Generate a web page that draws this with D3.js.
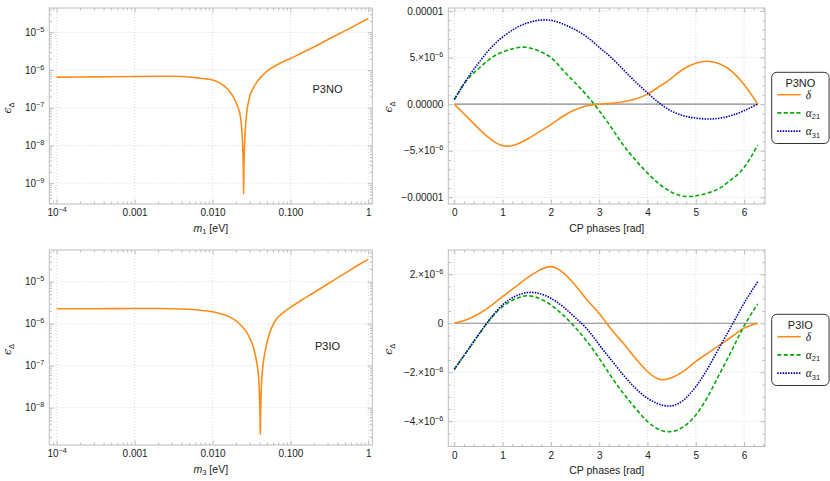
<!DOCTYPE html>
<html>
<head>
<meta charset="utf-8">
<script src="https://cdn.jsdelivr.net/npm/d3@7"></script>
<style>
  body { margin: 0; background: #fff; }
  svg text { font-family: "Liberation Sans", Arial, sans-serif; fill: #222; }
</style>
</head>
<body>
<div id="chart"></div>
<script>
// P3NO: epsilon vs lightest mass m1
const massNO = [1e-4, 3e-4, 1e-3, 2e-3, 3e-3, 4e-3, 5e-3, 6e-3, 7e-3, 8.5e-3, 0.01, 0.012, 0.0138, 0.0155,
  0.017, 0.0185, 0.02, 0.0214, 0.0225, 0.0235, 0.0243, 0.0248, 0.0251, 0.0254, 0.0259, 0.0268, 0.028,
  0.029, 0.0303, 0.033, 0.0369, 0.042, 0.0478, 0.0531, 0.065, 0.08, 0.1, 0.133, 0.18, 0.25, 0.35, 0.5, 0.7, 1];
const epsNO = [6.5e-7, 6.6e-7, 6.75e-7, 6.85e-7, 6.85e-7, 6.75e-7, 6.55e-7, 6.3e-7, 6.05e-7, 5.75e-7, 5.45e-7, 4.7e-7, 3.9e-7, 3.2e-7,
  2.55e-7, 1.95e-7, 1.4e-7, 1e-7, 6.8e-8, 3.6e-8, 1.2e-8, 3.5e-9, 5.2e-10, 3.5e-9, 1.2e-8, 4.2e-8, 1e-7,
  1.45e-7, 2.1e-7, 3.2e-7, 4.7e-7, 6.6e-7, 8.5e-7, 1.02e-6, 1.32e-6, 1.66e-6, 2.02e-6, 2.7e-6, 3.65e-6, 5.2e-6, 7.5e-6, 1.09e-5, 1.57e-5, 2.3e-5];

// P3IO: epsilon vs lightest mass m3
const massIO = [1e-4, 3e-4, 1e-3, 2e-3, 3e-3, 5e-3, 7e-3, 0.01, 0.0125, 0.015, 0.0175, 0.0205, 0.0221, 0.0245,
  0.0275, 0.0305, 0.0334, 0.0355, 0.0376, 0.039, 0.04, 0.0405, 0.0409, 0.0411, 0.0413, 0.0417, 0.0425,
  0.0441, 0.0465, 0.0496, 0.053, 0.0575, 0.0667, 0.08, 0.1, 0.14, 0.197, 0.3, 0.5, 0.783, 1];
const epsIO = [2.27e-6, 2.28e-6, 2.3e-6, 2.3e-6, 2.28e-6, 2.2e-6, 2.1e-6, 1.93e-6, 1.75e-6, 1.57e-6, 1.38e-6, 1.13e-6, 1e-6, 8.2e-7,
  6.3e-7, 4.3e-7, 2.8e-7, 1.75e-7, 1e-7, 5.5e-8, 2.2e-8, 1.1e-8, 4e-9, 2.3e-9, 4e-9, 1.1e-8, 3.5e-8,
  9e-8, 1.8e-7, 3.3e-7, 5.3e-7, 8.1e-7, 1.32e-6, 1.8e-6, 2.45e-6, 3.67e-6, 5.4e-6, 8.8e-6, 1.58e-5, 2.64e-5, 3.4e-5];

// CP phase scans
const phases = [0, 0.25, 0.5, 0.75, 1, 1.25, 1.5, 1.75, 2, 2.25, 2.5, 2.75, 3, 3.25, 3.5, 3.75,
  4, 4.25, 4.5, 4.75, 5, 5.25, 5.5, 5.75, 6, 6.2832];
const deltaNO = [0, -1.3e-6, -2.6e-6, -3.75e-6, -4.45e-6, -4.38e-6, -3.8e-6, -3.0e-6, -2.2e-6, -1.3e-6, -0.6e-6, -0.18e-6, 0,
  0.08e-6, 0.25e-6, 0.55e-6, 1.07e-6, 1.9e-6, 2.8e-6, 3.8e-6, 4.4e-6, 4.6e-6, 4.3e-6, 3.5e-6, 2.1e-6, 0];
const alpha21NO = [0.5e-6, 2.5e-6, 3.8e-6, 4.9e-6, 5.6e-6, 6.0e-6, 6.1e-6, 5.7e-6, 5.0e-6, 3.65e-6, 2.3e-6, 0.9e-6, -0.7e-6,
  -2.5e-6, -4.4e-6, -6.0e-6, -7.4e-6, -8.6e-6, -9.45e-6, -9.88e-6, -9.85e-6, -9.55e-6, -9.0e-6, -8.05e-6, -6.8e-6, -4.4e-6];
const alpha31NO = [0.5e-6, 2.6e-6, 4.4e-6, 6.0e-6, 7.2e-6, 8.1e-6, 8.7e-6, 9.0e-6, 9.0e-6, 8.6e-6, 8.0e-6, 7.2e-6, 6.1e-6,
  5.0e-6, 3.7e-6, 2.4e-6, 1.2e-6, 0.1e-6, -0.75e-6, -1.25e-6, -1.5e-6, -1.6e-6, -1.5e-6, -1.2e-6, -0.7e-6, 0];
const deltaIO = [0, 0.14e-6, 0.38e-6, 0.7e-6, 1.09e-6, 1.46e-6, 1.84e-6, 2.15e-6, 2.31e-6, 2.07e-6, 1.56e-6, 0.95e-6, 0.4e-6,
  -0.24e-6, -0.82e-6, -1.43e-6, -1.97e-6, -2.29e-6, -2.22e-6, -1.95e-6, -1.56e-6, -1.22e-6, -0.88e-6, -0.54e-6, -0.2e-6, 0];
const alpha21IO = [-1.88e-6, -1.18e-6, -0.48e-6, 0.18e-6, 0.68e-6, 0.98e-6, 1.12e-6, 1.02e-6, 0.75e-6, 0.34e-6, -0.16e-6, -0.75e-6, -1.43e-6,
  -2.18e-6, -2.86e-6, -3.47e-6, -4.01e-6, -4.35e-6, -4.42e-6, -4.22e-6, -3.74e-6, -2.99e-6, -2.04e-6, -1.09e-6, -0.11e-6, 0.79e-6];
const alpha31IO = [-1.88e-6, -1.18e-6, -0.47e-6, 0.2e-6, 0.75e-6, 1.09e-6, 1.25e-6, 1.22e-6, 1.02e-6, 0.68e-6, 0.24e-6, -0.24e-6, -0.88e-6,
  -1.5e-6, -2.11e-6, -2.65e-6, -3.06e-6, -3.31e-6, -3.37e-6, -3.13e-6, -2.59e-6, -1.84e-6, -0.95e-6, -0.07e-6, 0.82e-6, 1.7e-6];

// ticks and labels
const massTicks = [1e-4, 1e-3, 1e-2, 1e-1, 1];
const massTickLabels = ["10^\u22124", "0.001", "0.010", "0.100", "1"];
const epsTicksNO = [1e-9, 1e-8, 1e-7, 1e-6, 1e-5];
const epsTickLabelsNO = ["10^\u22129", "10^\u22128", "10^\u22127", "10^\u22126", "10^\u22125"];
const epsTicksIO = [1e-8, 1e-7, 1e-6, 1e-5];
const epsTickLabelsIO = ["10^\u22128", "10^\u22127", "10^\u22126", "10^\u22125"];
const phaseTicks = [0, 1, 2, 3, 4, 5, 6];
const phaseTickLabels = ["0", "1", "2", "3", "4", "5", "6"];
const cpTicksNO = [-1e-5, -5e-6, 0, 5e-6, 1e-5];
const cpTickLabelsNO = ["\u22120.00001", "\u22125.\u00d710^\u22126", "0.00000", "5.\u00d710^\u22126", "0.00001"];
const cpTicksIO = [-4e-6, -2e-6, 0, 2e-6];
const cpTickLabelsIO = ["\u22124.\u00d710^\u22126", "\u22122.\u00d710^\u22126", "0", "2.\u00d710^\u22126"];
const seriesNames = ["\u03b4", "\u03b1^21", "\u03b1^31"];

const width = 830, height = 481;
const colors = ["#ff8c1a", "#00aa00", "#0000aa"];
const dashes = [null, "4,2.4", "1.5,1.2"];

const svg = d3.select("#chart").append("svg")
  .attr("width", width).attr("height", height);

// "10^-5" -> 10 with superscript
function rich(sel, str, size) {
  const [base, sup] = str.split("^");
  sel.append("tspan").text(base);
  if (sup) sel.append("tspan").attr("dy", -4).attr("font-size", size * 0.72).text(sup);
}

function logMinor(scale) {
  const [a, b] = scale.domain();
  const out = [];
  for (let e = Math.floor(Math.log10(a)); e <= Math.ceil(Math.log10(b)); e++)
    for (let k = 2; k <= 9; k++) {
      const v = k * Math.pow(10, e);
      if (v > a && v < b) out.push(v);
    }
  return out;
}

function panel(o) {
  const [l, t, r, b] = o.box;
  const g = svg.append("g");

  // grid
  g.append("g").selectAll("line").data(o.xMajor).join("line")
    .attr("x1", d => o.x(d)).attr("x2", d => o.x(d)).attr("y1", t).attr("y2", b)
    .attr("stroke", "#cfcfcf").attr("stroke-width", 0.8).attr("stroke-dasharray", "1,2");
  g.append("g").selectAll("line").data(o.yMajor).join("line")
    .attr("y1", d => o.y(d)).attr("y2", d => o.y(d)).attr("x1", l).attr("x2", r)
    .attr("stroke", "#cfcfcf").attr("stroke-width", 0.8).attr("stroke-dasharray", "1,2");

  // axes on all four sides, ticks pointing inward
  const sides = [
    [d3.axisBottom(o.x), `translate(0,${b})`, o.xMajor, o.xMinor, o.xLabels],
    [d3.axisTop(o.x), `translate(0,${t})`, o.xMajor, o.xMinor, null],
    [d3.axisLeft(o.y), `translate(${l},0)`, o.yMajor, o.yMinor, o.yLabels],
    [d3.axisRight(o.y), `translate(${r},0)`, o.yMajor, o.yMinor, null]
  ];
  sides.forEach(([gen, tr, major, minor, labels]) => {
    g.append("g").attr("transform", tr)
      .call(gen.tickValues(minor).tickSize(-2.5).tickFormat(() => ""))
      .call(a => a.select(".domain").remove())
      .call(a => a.selectAll("line").attr("stroke", "#bdbdbd"));
    const a = g.append("g").attr("transform", tr)
      .call(gen.tickValues(major).tickSize(-4.5).tickPadding(5).tickFormat(() => ""))
      .call(a => a.select(".domain").remove())
      .call(a => a.selectAll("line").attr("stroke", "#bdbdbd"));
    if (labels) {
      a.attr("font-size", 10).attr("font-family", null);
      a.selectAll(".tick text").each(function (d) {
        const el = d3.select(this).text(null);
        rich(el, labels[major.indexOf(d)], 10);
      });
    }
  });

  return g;
}

function frame(g, box) {
  const [l, t, r, b] = box;
  g.append("rect").attr("x", l).attr("y", t).attr("width", r - l).attr("height", b - t)
    .attr("fill", "none").attr("stroke", "#bdbdbd").attr("stroke-width", 1);
}

function yTitle(x, y) {
  const t = svg.append("text").attr("transform", `translate(${x},${y}) rotate(-90)`)
    .attr("text-anchor", "middle").attr("font-size", 11);
  t.append("tspan").style("font-family", "'DejaVu Serif', serif").style("font-style", "italic").text("\u03f5");
  t.append("tspan").attr("dy", 3).attr("font-size", 7.5).text("\u0394");
}

function xTitleMass(x, y, sub) {
  const t = svg.append("text").attr("x", x).attr("y", y).attr("text-anchor", "middle").attr("font-size", 10.5);
  t.append("tspan").style("font-style", "italic").text("m");
  t.append("tspan").attr("dy", 2.5).attr("font-size", 7.5).text(sub);
  t.append("tspan").attr("dy", -2.5).text(" [eV]");
}

function xTitleCP(x, y) {
  svg.append("text").attr("x", x).attr("y", y).attr("text-anchor", "middle")
    .attr("font-size", 10.5).text("CP phases [rad]");
}

// ---- mass panels ----
function massPanel(box, xs, ys, yDom, yTicks, yLabels, name, sub, nameY) {
  const x = d3.scaleLog().domain([Math.pow(10, -4.095), Math.pow(10, 0.0513)]).range([box[0], box[2]]);
  const y = d3.scaleLog().domain(yDom).range([box[3], box[1]]);
  const g = panel({box, x, y, xMajor: massTicks, xMinor: logMinor(x), xLabels: massTickLabels,
    yMajor: yTicks, yMinor: logMinor(y), yLabels});
  const line = d3.line().x((d, i) => x(xs[i])).y(d => y(d)).curve(d3.curveCatmullRom.alpha(0.5));
  g.append("path").attr("d", line(ys)).attr("fill", "none")
    .attr("stroke", colors[0]).attr("stroke-width", 1.6).attr("stroke-linejoin", "round");
  frame(g, box);
  svg.append("text").attr("x", 327.5).attr("y", nameY).attr("text-anchor", "middle")
    .attr("font-size", 11).text(name);
  xTitleMass((box[0] + box[2]) / 2, box[3] + 27.5, sub);
  yTitle(10.5, (box[1] + box[3]) / 2 + 2);
}

massPanel([49.3, 8, 372.3, 204], massNO, epsNO, [Math.pow(10, -9.55), Math.pow(10, -4.356)],
  epsTicksNO, epsTickLabelsNO, "P3NO", "1", 93);
massPanel([49.3, 250, 372.3, 445], massIO, epsIO, [Math.pow(10, -8.888), Math.pow(10, -4.245)],
  epsTicksIO, epsTickLabelsIO, "P3IO", "3", 350);

// ---- CP phase panels ----
function phasePanel(box, series, yDom, yTicks, yLabels, yMinorStep, name) {
  const x = d3.scaleLinear().domain([-0.124, 6.433]).range([box[0], box[2]]);
  const y = d3.scaleLinear().domain(yDom).range([box[3], box[1]]);
  const xMinor = d3.range(0.2, 6.45, 0.2).filter(v => Math.abs(v - Math.round(v)) > 1e-6);
  const yMinor = d3.range(Math.ceil(yDom[0] / yMinorStep), Math.floor(yDom[1] / yMinorStep) + 1)
    .map(k => k * yMinorStep).filter(v => !yTicks.some(tk => Math.abs(tk - v) < 1e-12));
  const g = panel({box, x, y, xMajor: phaseTicks, xMinor, xLabels: phaseTickLabels,
    yMajor: yTicks, yMinor, yLabels});

  // zero reference line
  g.append("line").attr("x1", x(d3.min(phases))).attr("x2", x(d3.max(phases)))
    .attr("y1", y(0)).attr("y2", y(0)).attr("stroke", "#8a8a8a").attr("stroke-width", 1.2);

  const line = d3.line().x((d, i) => x(phases[i])).y(d => y(d)).curve(d3.curveNatural);
  series.forEach((s, i) => {
    g.append("path").attr("d", line(s)).attr("fill", "none")
      .attr("stroke", colors[i]).attr("stroke-width", 1.6)
      .attr("stroke-dasharray", dashes[i]);
  });
  frame(g, box);
  xTitleCP(606.7, box[3] + 27.5);
  yTitle(392, (box[1] + box[3]) / 2 + 1);

  // legend
  const lg = svg.append("g").attr("transform", `translate(771.7,${box[1] + 64.3})`);
  lg.append("rect").attr("width", 57.4).attr("height", 71.2).attr("rx", 5)
    .attr("fill", "#fff").attr("stroke", "#333").attr("stroke-width", 1);
  lg.append("text").attr("x", 28.7).attr("y", 14.6).attr("text-anchor", "middle")
    .attr("font-size", 11).text(name);
  series.forEach((s, i) => {
    const yy = 22.4 + i * 18.2;
    lg.append("line").attr("x1", 5.6).attr("x2", 29).attr("y1", yy).attr("y2", yy)
      .attr("stroke", colors[i]).attr("stroke-width", 1.6).attr("stroke-dasharray", dashes[i]);
    const t = lg.append("text").attr("x", 34).attr("y", yy + 4).attr("font-size", 11.5);
    const [base, sub] = seriesNames[i].split("^");
    t.append("tspan").style("font-family", "'Liberation Serif', serif").style("font-style", "italic").text(base);
    if (sub) t.append("tspan").attr("dy", 2.5).attr("font-size", 7.5).text(sub);
  });
}

phasePanel([448.3, 8, 765, 204], [deltaNO, alpha21NO, alpha31NO], [-10.72e-6, 10.32e-6],
  cpTicksNO, cpTickLabelsNO, 1e-6, "P3NO");
phasePanel([448.3, 250, 765, 446.5], [deltaIO, alpha21IO, alpha31IO], [-5.03e-6, 2.99e-6],
  cpTicksIO, cpTickLabelsIO, 0.5e-6, "P3IO");
</script>
</body>
</html>
